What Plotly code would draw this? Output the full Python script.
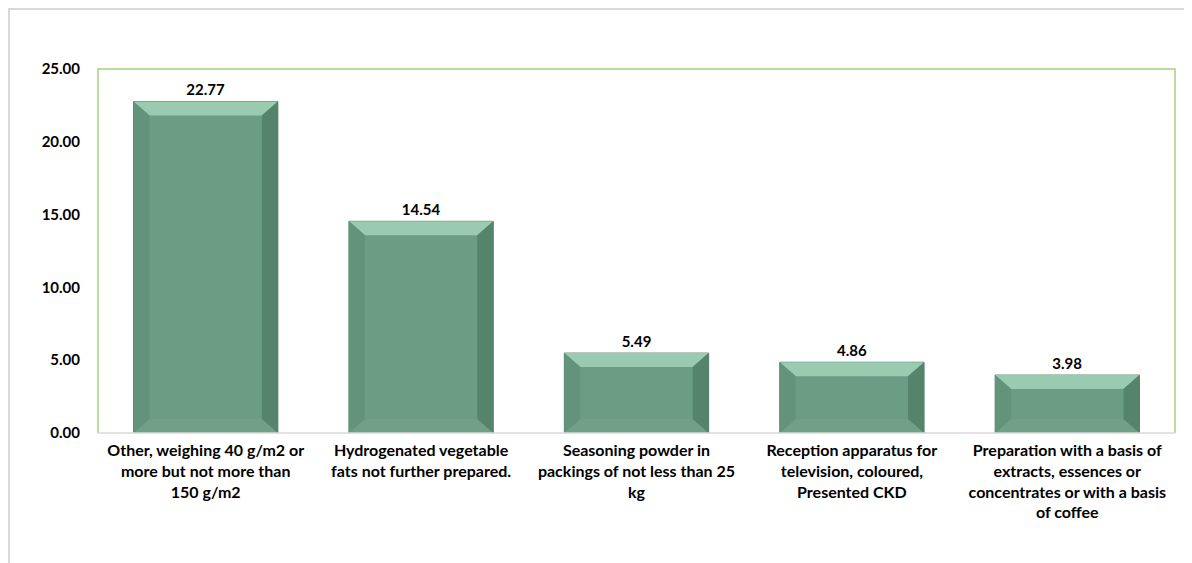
import plotly.graph_objects as go

categories = [
    "Other, weighing 40 g/m2 or<br>more but not more than<br>150 g/m2",
    "Hydrogenated vegetable<br>fats not further prepared.",
    "Seasoning powder in<br>packings of not less than 25<br>kg",
    "Reception apparatus for<br>television, coloured,<br>Presented CKD",
    "Preparation with a basis of<br>extracts, essences or<br>concentrates or with a basis<br>of coffee",
]
values = [22.77, 14.54, 5.49, 4.86, 3.98]
y_ticks = [0, 5, 10, 15, 20, 25]

# page has an 8px body margin; figure starts at (8, 8)
W, H = 1184, 555
ml, mr, mt, mb = 90, 17, 61, 130
pw, ph = W - ml - mr, H - mt - mb
ymax = 25
half = 0.335
font = "Lato"

fig = go.Figure()
fig.add_trace(go.Bar(
    x=list(range(len(values))), y=values, width=2 * half,
    marker=dict(color="#6b9d85", line=dict(color="#55836c", width=1)),
    text=[f"{v:.2f}" for v in values], textposition="outside",
    textfont=dict(family=font, size=15, color="#000000", weight="bold"),
    cliponaxis=False, hoverinfo="skip",
))

# bevel facets computed from the data
dx = 16 / (pw / len(values))
dy = 14 / (ph / ymax)
shapes = []
for i, v in enumerate(values):
    x0, x1 = i - half, i + half
    d_y = min(dy, v / 2)
    faces = [
        (f"M{x0},{v} L{x1},{v} L{x1-dx},{v-d_y} L{x0+dx},{v-d_y} Z", "#9acbb1"),
        (f"M{x0},0 L{x1},0 L{x1-dx},{d_y} L{x0+dx},{d_y} Z", "#70a188"),
        (f"M{x0},0 L{x0},{v} L{x0+dx},{v-d_y} L{x0+dx},{d_y} Z", "#63947b"),
        (f"M{x1},0 L{x1},{v} L{x1-dx},{v-d_y} L{x1-dx},{d_y} Z", "#56836c"),
    ]
    for p, c in faces:
        shapes.append(dict(type="path", xref="x", yref="y", path=p,
                           fillcolor=c, line=dict(width=0), layer="above"))

# plot area border (green on left/top/right)
shapes.append(dict(type="path", xref="paper", yref="paper",
                   path="M0,0 L0,1 L1,1 L1,0", line=dict(color="#a9cf80", width=1.5)))
# bottom axis line
shapes.append(dict(type="line", xref="paper", yref="paper", x0=0, x1=1, y0=0, y1=0,
                   line=dict(color="#d9d9d9", width=1.5)))
# outer chart frame (left and top)
fx = (1 - ml) / pw
fy_top = (mt + ph - 1) / ph
fy_bot = (mt + ph - H) / ph
shapes.append(dict(type="path", xref="paper", yref="paper",
                   path=f"M{fx},{fy_bot} L{fx},{fy_top} L1.2,{fy_top}",
                   line=dict(color="#d9d9d9", width=2)))

fig.update_layout(
    width=W, height=H,
    margin=dict(l=ml, r=mr, t=mt, b=mb, autoexpand=False),
    paper_bgcolor="white", plot_bgcolor="white",
    showlegend=False,
    shapes=shapes,
    xaxis=dict(tickmode="array", tickvals=list(range(len(values))), ticktext=categories,
               range=[-0.5, len(values) - 0.5], showgrid=False, zeroline=False,
               showline=False, ticks="", tickangle=0, automargin=False,
               ticklabelstandoff=6,
               tickfont=dict(family=font, size=16, color="#000000", weight="bold")),
    yaxis=dict(range=[0, ymax], tickvals=y_ticks, ticktext=[f"{t:.2f}" for t in y_ticks],
               showgrid=False, zeroline=False, showline=False, automargin=False,
               ticks="outside", ticklen=14, tickcolor="rgba(0,0,0,0)",
               tickfont=dict(family=font, size=15, color="#000000", weight="bold")),
)

fig.write_html("out.html")
